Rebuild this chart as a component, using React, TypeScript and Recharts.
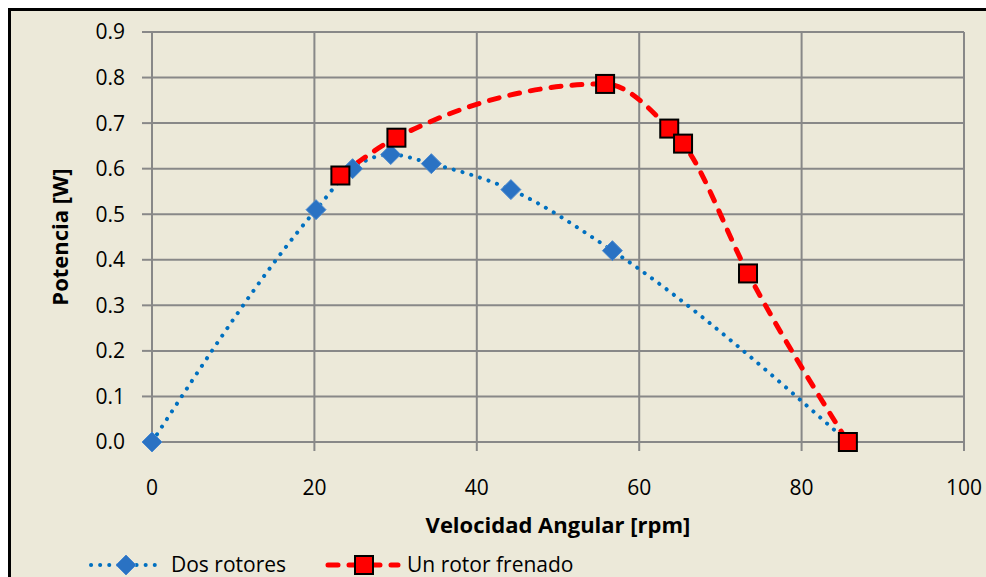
import { LineChart, Line, XAxis, YAxis, CartesianGrid, Label, Legend } from "recharts";

// Dos rotores (blue, dotted)
const dosX = [0, 20.2, 24.7, 29.4, 34.4, 44.2, 56.7, 85.7];
const dosY = [0.0, 0.51, 0.6, 0.631, 0.611, 0.554, 0.42, 0.0];

// Un rotor frenado (red, dashed)
const unX = [23.2, 30.1, 55.8, 63.7, 65.4, 73.4, 85.7];
const unY = [0.585, 0.668, 0.786, 0.688, 0.655, 0.37, 0.0];

const xTicks = [0, 20, 40, 60, 80, 100];
const yTicks = [0, 0.1, 0.2, 0.3, 0.4, 0.5, 0.6, 0.7, 0.8, 0.9];

const dosData = dosX.map((x, i) => ({ x, y: dosY[i] }));
const unData = unX.map((x, i) => ({ x, y: unY[i] }));

const FONT = "'Open Sans', sans-serif";
const GRAY = "#888888";
const BG = "#ECE9D9";
const BLUE = "#0070C0";
const RED = "#FF0000";

function Diamond({ cx, cy }: { cx?: number; cy?: number }) {
  if (cx == null || cy == null) return null;
  const r = 10;
  return (
    <polygon
      points={`${cx},${cy - r} ${cx + r},${cy} ${cx},${cy + r} ${cx - r},${cy}`}
      fill="#2A72C3"
      stroke="#4A8AD0"
      strokeWidth={1}
    />
  );
}

function Square({ cx, cy }: { cx?: number; cy?: number }) {
  if (cx == null || cy == null) return null;
  const s = 18;
  return (
    <rect
      x={cx - s / 2}
      y={cy - s / 2}
      width={s}
      height={s}
      fill={RED}
      stroke="#000"
      strokeWidth={2}
    />
  );
}

// legend row drawn by hand, the Excel look (line + marker + text)
function LegendBox() {
  return (
    <svg width={540} height={26} style={{ display: "block" }}>
      <line x1={3} y1={14} x2={70} y2={14} stroke={BLUE} strokeWidth={4}
        strokeDasharray="0.1 9" strokeLinecap="round" />
      <Diamond cx={38} cy={14} />
      <text x={83} y={21} fontFamily={FONT} fontSize={21} fill="#000">
        Dos rotores
      </text>
      <line x1={240} y1={14} x2={310} y2={14} stroke={RED} strokeWidth={5}
        strokeDasharray="10 11" strokeLinecap="round" />
      <Square cx={276} cy={14} />
      <text x={319} y={21} fontFamily={FONT} fontSize={21} fill="#000">
        Un rotor frenado
      </text>
    </svg>
  );
}

export default function App() {
  return (
    <div
      style={{
        position: "fixed",
        left: 0,
        top: 0,
        width: 986,
        height: 577,
        background: "#fff",
        overflow: "hidden",
      }}
    >
      <div
        style={{
          position: "absolute",
          left: 8,
          top: 8,
          width: 1000,
          height: 600,
          background: BG,
          borderLeft: "3px solid #000",
          borderTop: "3px solid #000",
        }}
      />
      <div style={{ position: "absolute", left: 0, top: 0 }}>
        <LineChart
          width={986}
          height={577}
          margin={{ top: 32, right: 22, bottom: 0, left: 0 }}
        >
          <CartesianGrid stroke={GRAY} strokeWidth={2} />
          <XAxis
            type="number"
            dataKey="x"
            domain={[0, 100]}
            ticks={xTicks}
            height={135}
            stroke={GRAY}
            strokeWidth={2}
            tickSize={9}
            tickMargin={29}
            tick={{ fill: "#000", fontSize: 21, fontFamily: FONT }}
            allowDuplicatedCategory={false}
          >
            <Label
              content={({ viewBox }: any) => (
                <text
                  x={viewBox.x + viewBox.width / 2}
                  y={viewBox.y + 91}
                  textAnchor="middle"
                  fontFamily={FONT}
                  fontWeight="bold"
                  fontSize={22}
                  fill="#000"
                >
                  Velocidad Angular [rpm]
                </text>
              )}
            />
          </XAxis>
          <YAxis
            type="number"
            domain={[0, 0.9]}
            ticks={yTicks}
            width={152}
            stroke={GRAY}
            strokeWidth={2}
            tickSize={10}
            tickMargin={17}
            tickFormatter={(v: number) => v.toFixed(1)}
            tick={{ fill: "#000", fontSize: 21, fontFamily: FONT }}
          >
            <Label
              content={({ viewBox }: any) => {
                const cy = viewBox.y + viewBox.height / 2;
                return (
                  <text
                    x={68}
                    y={cy}
                    transform={`rotate(-90 68 ${cy})`}
                    textAnchor="middle"
                    fontFamily={FONT}
                    fontWeight="bold"
                    fontSize={22}
                    fill="#000"
                  >
                    Potencia [W]
                  </text>
                );
              }}
            />
          </YAxis>
          <Legend
            layout="horizontal"
            verticalAlign="middle"
            wrapperStyle={{ top: 551, left: 88, width: 540, height: 26 }}
            content={() => <LegendBox />}
          />
          <Line
            data={dosData}
            dataKey="y"
            name="Dos rotores"
            type="monotone"
            stroke={BLUE}
            strokeWidth={4}
            strokeDasharray="0.1 9"
            strokeLinecap="round"
            dot={(p: any) => <Diamond key={`d${p.index}`} cx={p.cx} cy={p.cy} />}
            activeDot={false}
            isAnimationActive={false}
          />
          <Line
            data={unData}
            dataKey="y"
            name="Un rotor frenado"
            type="monotone"
            stroke={RED}
            strokeWidth={5}
            strokeDasharray="10 11"
            strokeLinecap="round"
            dot={(p: any) => <Square key={`s${p.index}`} cx={p.cx} cy={p.cy} />}
            activeDot={false}
            isAnimationActive={false}
          />
        </LineChart>
      </div>
    </div>
  );
}
